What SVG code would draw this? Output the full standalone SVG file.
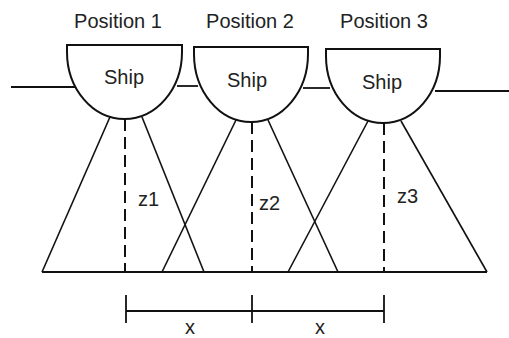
<svg xmlns="http://www.w3.org/2000/svg" width="509" height="338" viewBox="0 0 509 338">
  <style>
    .ln { fill: none; stroke: #111; stroke-width: 1.8; }
    .beam { fill: none; stroke: #111; stroke-width: 1.6; }
    .hull { fill: #fff; stroke: #111; stroke-width: 2; }
    .dash { fill: none; stroke: #111; stroke-width: 2; stroke-dasharray: 12 6; }
    .lbl { font-family: "Liberation Sans", Arial, sans-serif; font-size: 20px; fill: #222; }
  </style>
  <rect width="509" height="338" fill="#fff"/>

  <!-- water surface between the hulls -->
  <g id="water">
    <line class="ln" x1="11" y1="87" x2="76" y2="87"/>
    <line class="ln" x1="177" y1="86" x2="198" y2="86"/>
    <line class="ln" x1="303" y1="88" x2="330" y2="88"/>
    <line class="ln" x1="435" y1="91" x2="509" y2="91"/>
  </g>

  <!-- sonar beams, nadir depth lines, sea floor and spacing scale -->
  <g id="connectors">
    <line class="beam" x1="110" y1="117" x2="42" y2="272"/>
    <line class="beam" x1="142" y1="117" x2="204" y2="272"/>
    <line class="beam" x1="236" y1="120" x2="162" y2="272"/>
    <line class="beam" x1="268" y1="120" x2="338" y2="272"/>
    <line class="beam" x1="368" y1="121" x2="288" y2="272"/>
    <line class="beam" x1="401" y1="121" x2="487" y2="272"/>
    <line class="dash" x1="125" y1="119" x2="125" y2="272"/>
    <line class="dash" x1="252" y1="122" x2="252" y2="272"/>
    <line class="dash" x1="384" y1="123" x2="384" y2="272"/>
    <line class="ln" x1="42" y1="272" x2="487" y2="272"/>
    <line class="ln" x1="126" y1="311" x2="384" y2="311"/>
    <line class="ln" x1="126" y1="295" x2="126" y2="323"/>
    <line class="ln" x1="252" y1="295" x2="252" y2="323"/>
    <line class="ln" x1="384" y1="295" x2="384" y2="323"/>
  </g>

  <g id="ship1">
    <text class="lbl" x="118" y="28" text-anchor="middle">Position 1</text>
    <path class="hull" d="M67,45 H182 V52 A57.5,67 0 0 1 67,52 Z"/>
    <text class="lbl" x="124" y="84" text-anchor="middle">Ship</text>
  </g>
  <g id="ship2">
    <text class="lbl" x="250" y="28" text-anchor="middle">Position 2</text>
    <path class="hull" d="M194,47 H308 V54 A57,68 0 0 1 194,54 Z"/>
    <text class="lbl" x="247" y="87" text-anchor="middle">Ship</text>
  </g>
  <g id="ship3">
    <text class="lbl" x="384" y="28" text-anchor="middle">Position 3</text>
    <path class="hull" d="M326,49 H440 V56 A57,67 0 0 1 326,56 Z"/>
    <text class="lbl" x="382" y="89" text-anchor="middle">Ship</text>
  </g>

  <g id="depths">
    <text class="lbl" x="138" y="206">z1</text>
    <text class="lbl" x="259" y="210">z2</text>
    <text class="lbl" x="397" y="203">z3</text>
  </g>
  <g id="spacing">
    <text class="lbl" x="190" y="334" text-anchor="middle">x</text>
    <text class="lbl" x="320" y="334" text-anchor="middle">x</text>
  </g>
</svg>
